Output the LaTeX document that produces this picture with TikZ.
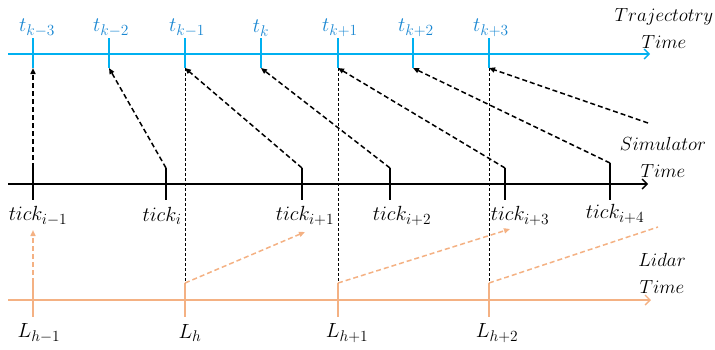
\documentclass[tikz,border=0pt]{standalone}
\usepackage{fix-cm}
\DeclareMathSizes{20.5}{20.5}{15.5}{12}
\DeclareMathSizes{19}{19}{14}{11}
\usetikzlibrary{arrows.meta}
\definecolor{trajblue}{RGB}{0,176,240}
\definecolor{labblue}{RGB}{25,135,210}
\definecolor{lidorange}{RGB}{244,177,131}
\begin{document}
\begin{tikzpicture}[x=1pt,y=-1pt,
  axisline/.style={line width=1.7pt,-{Straight Barb[length=5pt,width=10pt,line width=1.4pt]}},
  tickline/.style={line width=1.7pt},
  linkarrow/.style={line width=1.5pt,dash pattern=on 5pt off 3pt,-{Triangle[length=6pt,width=5pt]}},
  guide/.style={line width=0.7pt,dash pattern=on 3pt off 2pt},
  lidarrow/.style={line width=1.5pt,lidorange,dash pattern=on 5pt off 3pt,-{Triangle[length=6pt,width=5pt]}},
  lidplain/.style={line width=1.5pt,lidorange,dash pattern=on 5pt off 3pt},
  lab/.style={font=\fontsize{20.5}{27}\selectfont,inner sep=0pt,align=center},
  axtitle/.style={font=\fontsize{19}{27}\selectfont,inner sep=0pt,align=center}]
\useasboundingbox (0,0) rectangle (715,349);

% ---------- Trajectory axis ----------
\coordinate (ta0) at (8,54);
\coordinate (ta1) at (650,54);
\draw[axisline,trajblue] (ta0) -- (ta1);
\foreach \n/\x in {t1/33,t2/109,t3/185,t4/261,t5/338,t6/413,t7/489}{
  \coordinate (\n top) at (\x,38);
  \coordinate (\n bot) at (\x,68);
  \draw[tickline,trajblue] (\n top) -- (\n bot);
}
\node[lab,labblue] (lt1) at (37,28) {$t_{k-3}$};
\node[lab,labblue] (lt2) at (111,28) {$t_{k-2}$};
\node[lab,labblue] (lt3) at (187,28) {$t_{k-1}$};
\node[lab,labblue] (lt4) at (261,28) {$t_{k}$};
\node[lab,labblue] (lt5) at (340,28) {$t_{k+1}$};
\node[lab,labblue] (lt6) at (416,28) {$t_{k+2}$};
\node[lab,labblue] (lt7) at (491,28) {$t_{k+3}$};
\node[axtitle] (ttraj) at (664,29) {$Trajectotry$\\$Time$};

% ---------- Simulator axis ----------
\coordinate (sa0) at (8,184);
\coordinate (sa1) at (648,184);
\draw[axisline,black] (sa0) -- (sa1);
\foreach \n/\x/\y in {s1/33/168,s2/166/168,s3/302/168,s4/390/168,s5/505/168,s6/610/163}{
  \coordinate (\n top) at (\x,\y);
  \coordinate (\n bot) at (\x,200);
  \draw[tickline,black] (\n top) -- (\n bot);
}
\node[lab] (ls1) at (38,216) {$tick_{i-1}$};
\node[lab] (ls2) at (162,216) {$tick_{i}$};
\node[lab] (ls3) at (305,216) {$tick_{i+1}$};
\node[lab] (ls4) at (402,216) {$tick_{i+2}$};
\node[lab] (ls5) at (520,216) {$tick_{i+3}$};
\node[lab] (ls6) at (615,214) {$tick_{i+4}$};
\node[axtitle] (tsim) at (663,157) {$Simulator$\\$Time$};

% ---------- Lidar axis ----------
\coordinate (la0) at (8,300);
\coordinate (la1) at (651,300);
\draw[axisline,lidorange] (la0) -- (la1);
\foreach \n/\x in {l1/33,l2/185,l3/338,l4/489}{
  \coordinate (\n top) at (\x,283);
  \coordinate (\n bot) at (\x,317);
  \draw[tickline,lidorange] (\n top) -- (\n bot);
}
\node[lab] (ll1) at (39,333) {$L_{h-1}$};
\node[lab] (ll2) at (190,333) {$L_{h}$};
\node[lab] (ll3) at (347,333) {$L_{h+1}$};
\node[lab] (ll4) at (497,333) {$L_{h+2}$};
\node[axtitle] (tlid) at (662,273) {$Lidar$\\$Time$};

% ---------- guides ----------
\draw[guide] (t3bot) -- (l2top);
\draw[guide] (t5bot) -- (l3top);
\draw[guide] (t7bot) -- (l4top);

% ---------- simulator -> trajectory ----------
\coordinate (sfree) at (648,123);
\draw[linkarrow] (s1top) -- (t1bot);
\draw[linkarrow] (s2top) -- (t2bot);
\draw[linkarrow] (s3top) -- (t3bot);
\draw[linkarrow] (s4top) -- (t4bot);
\draw[linkarrow] (s5top) -- (t5bot);
\draw[linkarrow] (s6top) -- (t6bot);
\draw[linkarrow] (sfree) -- (t7bot);

% ---------- lidar -> simulator ----------
\coordinate (le1) at (33,230);
\coordinate (le2) at (305,232);
\coordinate (le3) at (510,229);
\coordinate (le4) at (658,227);
\draw[lidarrow] (l1top) -- (le1);
\draw[lidarrow] (l2top) -- (le2);
\draw[lidarrow] (l3top) -- (le3);
\draw[lidplain] (l4top) -- (le4);
\end{tikzpicture}
\end{document}
